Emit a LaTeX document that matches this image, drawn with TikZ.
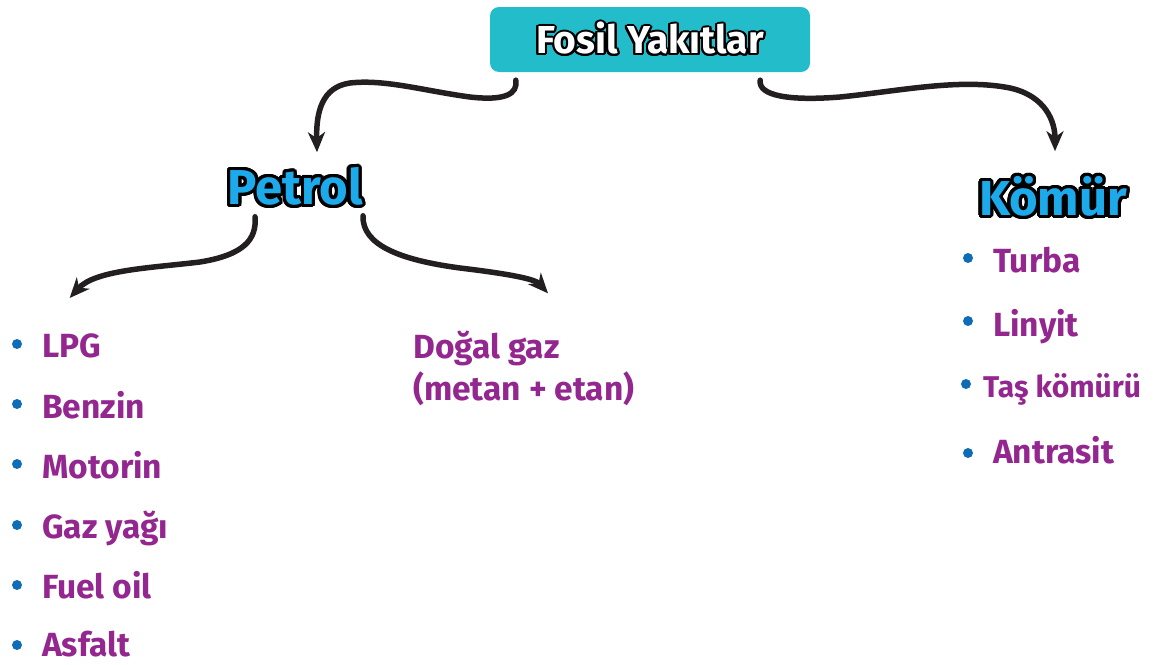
\documentclass[tikz,border=0pt]{standalone}
\usepackage{fontspec}
\setmainfont{Fira Sans}
\usepackage[copies]{contour}
\contournumber{24}
\usetikzlibrary{arrows.meta,calc}
\definecolor{teal}{HTML}{22BCCB}
\definecolor{headblue}{HTML}{1CAAEA}
\definecolor{itempurple}{HTML}{93278F}
\definecolor{bulletblue}{HTML}{0F6CB6}
\definecolor{arrowblack}{HTML}{231F20}
\tikzset{
  arr/.style={draw=arrowblack,line width=5.5pt,line cap=round,
    -{Stealth[length=20pt,width=17pt,inset=6pt]}},
  titlebox/.style={fill=teal,rounded corners=9pt,minimum width=320pt,minimum height=65pt,inner sep=0pt},
  heading/.style={font=\fontsize{49}{52}\selectfont\bfseries,text=headblue,inner sep=0pt},
  item/.style={font=\fontsize{33.5}{42}\selectfont\bfseries,text=itempurple,anchor=base west,inner sep=0pt,align=left},
  bullet/.style={circle,fill=bulletblue,minimum size=10pt,inner sep=0pt}
}
\begin{document}
\begin{tikzpicture}[x=1pt,y=-1pt]
\useasboundingbox (0,0) rectangle (1156,664);
% title
\node[titlebox] (top) at (650,39.5) {\fontsize{39}{42}\selectfont\bfseries\contourlength{2pt}\contour{black}{\textcolor{white}{Fosil Yakıtlar}}};
% headings
\node[heading] (petrol) at (295,188) {\contourlength{3.2pt}\contour{black}{Petrol}};
\node[heading] (komur) at (1053,198) {\contourlength{3.2pt}\contour{black}{Kömür}};
% left list
\node[bullet] (b1) at (17,344) {};
\node[item] (lpg) at (42,357) {LPG};
\node[bullet] (b2) at (17,404) {};
\node[item] (benzin) at (42,418) {Benzin};
\node[bullet] (b3) at (17,464) {};
\node[item] (motorin) at (42,478) {Motorin};
\node[bullet] (b4) at (17,525) {};
\node[item] (gaz) at (42,538) {Gaz yağı};
\node[bullet] (b5) at (17,585) {};
\node[item] (fuel) at (42,598) {Fuel oil};
\node[bullet] (b6) at (17,645) {};
\node[item] (asfalt) at (42,656) {Asfalt};
% middle
\node[item] (dogal) at (413,400) {Doğal gaz\\(metan + etan)};
% right list
\node[bullet] (r1) at (968,258) {};
\node[item] (turba) at (993,272) {Turba};
\node[bullet] (r2) at (968,321) {};
\node[item] (linyit) at (993,336) {Linyit};
\node[bullet] (r3) at (966,384) {};
\node[item,font=\fontsize{30}{36}\selectfont\bfseries] (tas) at (983,397) {Taş kömürü};
\node[bullet] (r4) at (968,453) {};
\node[item] (antrasit) at (993,463) {Antrasit};
% arrows
\draw[arr] ($(top.south west)+(26,8)$) .. controls (518,94) and (505,101) .. (470,97)
  .. controls (425,91) and (385,79) .. (350,83)
  .. controls (322,87) and (316,112) .. ($(petrol.north)+(22,-15)$);
\draw[arr] ($(top.south east)+(-50,8)$) .. controls (758,96) and (790,101) .. (840,97)
  .. controls (900,91) and (960,78) .. (1010,88)
  .. controls (1046,96) and (1055,122) .. ($(komur.north)+(2,-25)$);
\draw[arr] ($(petrol.south)+(-40,8)$) .. controls (257,240) and (243,255) .. (200,262)
  .. controls (150,268) and (95,270) .. ($(lpg.north)+(-2,-35)$);
\draw[arr] ($(petrol.south)+(68,7)$) .. controls (362,245) and (400,260) .. (460,268)
  .. controls (510,274) and (535,279) .. ($(dogal.north west)+(135,-37)$);
\end{tikzpicture}
\end{document}
